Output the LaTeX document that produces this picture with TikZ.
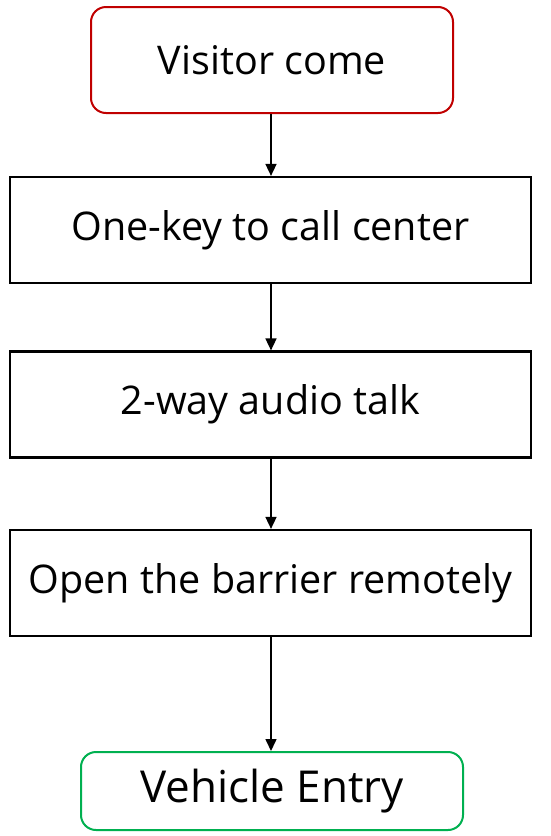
\documentclass[tikz,border=0pt]{standalone}
\usepackage{fontspec}
\setmainfont{Open Sans}
\usetikzlibrary{arrows.meta}
\begin{document}
\begin{tikzpicture}[x=1pt,y=-1pt,
  boxstyle/.style={draw=black,line width=2.2pt,minimum width=521pt,minimum height=106pt,inner sep=0pt,font=\fontsize{39.5}{46}\selectfont},
  startstyle/.style={draw={rgb,255:red,192;green,0;blue,0},line width=2pt,rounded corners=15pt,minimum width=362pt,minimum height=106pt,inner sep=0pt,font=\fontsize{39.5}{46}\selectfont},
  endstyle/.style={draw={rgb,255:red,0;green,176;blue,80},line width=2pt,rounded corners=15pt,minimum width=382pt,minimum height=78pt,inner sep=0pt,font=\fontsize{44}{50}\selectfont},
  arrowstyle/.style={draw=black,line width=1.6pt,-{Triangle[length=12pt,width=11pt]}}]
\useasboundingbox (0,0) rectangle (551,836);
\node[startstyle] (a) at (272,60) {Visitor come};
\node[boxstyle] (b) at (270.5,230) {One-key to call center};
\node[boxstyle] (c) at (270.5,404.5) {2-way audio talk};
\node[boxstyle] (d) at (270.5,583) {Open the barrier remotely};
\node[endstyle] (e) at (272,791) {Vehicle Entry};
\draw[arrowstyle] (a.south -| 271,0) -- (b.north -| 271,0);
\draw[arrowstyle] (b.south -| 271,0) -- (c.north -| 271,0);
\draw[arrowstyle] (c.south -| 271,0) -- (d.north -| 271,0);
\draw[arrowstyle] (d.south -| 271,0) -- (e.north -| 271,0);
\end{tikzpicture}
\end{document}
